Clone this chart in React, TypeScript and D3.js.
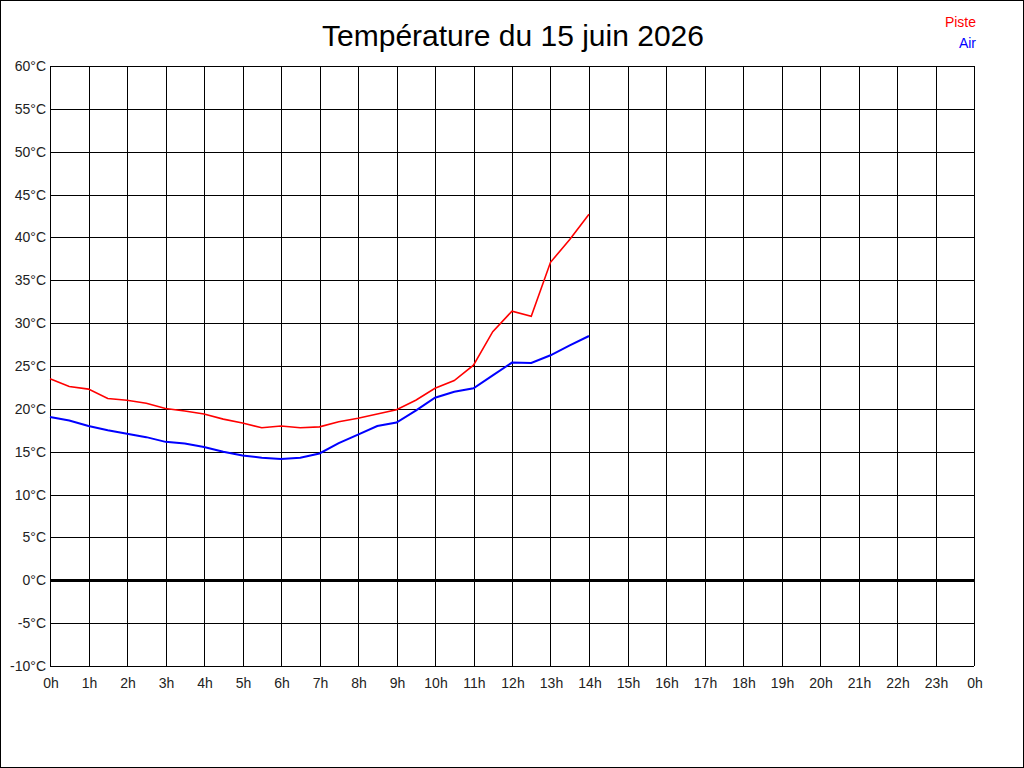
import { useCallback, useEffect, useRef } from 'react';

import { line, range, scaleLinear, select } from 'd3';

// half-hour steps from 0h to 14h
const hours: number[] = [
  0, 0.5, 1, 1.5, 2, 2.5, 3, 3.5, 4, 4.5, 5, 5.5, 6, 6.5, 7, 7.5, 8, 8.5, 9,
  9.5, 10, 10.5, 11, 11.5, 12, 12.5, 13, 13.5, 14,
];

const piste: number[] = [
  23.5, 22.6, 22.3, 21.2, 21.0, 20.65, 20.05, 19.75, 19.4, 18.8, 18.35, 17.8,
  18.0, 17.8, 17.9, 18.5, 18.9, 19.4, 19.9, 21.0, 22.4, 23.3, 25.1, 29.0, 31.4,
  30.8, 37.1, 39.75, 42.7,
];

const air: number[] = [
  19.05, 18.65, 18.0, 17.5, 17.1, 16.7, 16.15, 15.95, 15.55, 15.0, 14.55,
  14.3, 14.15, 14.3, 14.8, 16.0, 17.0, 18.0, 18.4, 19.8, 21.3, 22.0, 22.4,
  23.9, 25.4, 25.35, 26.25, 27.4, 28.5,
];

const hourTicks: number[] = range(0, 25);
const tempTicks: number[] = range(-10, 61, 5);

const series = [
  { name: 'Piste', color: '#ff0000', values: piste, width: 1.6 },
  { name: 'Air', color: '#0000ff', values: air, width: 2 },
];

export default function App() {
  const containerRef = useRef<HTMLDivElement>(null);

  const initChart = useCallback(() => {
    const container = containerRef.current;
    if (!container) return;

    const W = 1024,
      H = 768;
    const margin = { top: 66, right: 50, bottom: 102, left: 50 };
    const width = W - margin.left - margin.right,
      height = H - margin.top - margin.bottom;
    const font = '"Liberation Sans", Arial, sans-serif';

    const div = select(container);
    div.select('svg').remove();

    const root = div
      .append('svg')
      .attr('width', W)
      .attr('height', H)
      .style('display', 'block');

    root
      .append('rect')
      .attr('x', 0.5)
      .attr('y', 0.5)
      .attr('width', W - 1)
      .attr('height', H - 1)
      .attr('fill', '#fff')
      .attr('stroke', '#000');

    // title
    root
      .append('text')
      .attr('x', 513)
      .attr('y', 46)
      .attr('text-anchor', 'middle')
      .attr('font-family', font)
      .attr('font-size', 30)
      .text('Température du 15 juin 2026');

    // legend
    series.forEach((s, i) => {
      root
        .append('text')
        .attr('x', 976)
        .attr('y', 27 + i * 21)
        .attr('text-anchor', 'end')
        .attr('font-family', font)
        .attr('font-size', 14)
        .attr('fill', s.color)
        .text(s.name);
    });

    const svg = root
      .append('g')
      .attr('transform', `translate(${margin.left},${margin.top})`);

    const x = scaleLinear().domain([0, 24]).range([0, width]);
    const y = scaleLinear().domain([-10, 60]).range([height, 0]);

    // grid
    const grid = svg
      .append('g')
      .attr('stroke', '#000')
      .attr('shape-rendering', 'crispEdges');
    grid
      .selectAll('line.v')
      .data(hourTicks)
      .join('line')
      .attr('class', 'v')
      .attr('x1', (d) => Math.round(x(d)) + 0.5)
      .attr('x2', (d) => Math.round(x(d)) + 0.5)
      .attr('y1', 0)
      .attr('y2', height);
    grid
      .selectAll('line.h')
      .data(tempTicks)
      .join('line')
      .attr('class', 'h')
      .attr('x1', 0)
      .attr('x2', width)
      .attr('y1', (d) => Math.round(y(d)) + 0.5)
      .attr('y2', (d) => Math.round(y(d)) + 0.5)
      .attr('stroke-width', (d) => (d === 0 ? 3 : 1));

    // y labels
    svg
      .append('g')
      .selectAll('text')
      .data(tempTicks)
      .join('text')
      .attr('x', -4)
      .attr('y', (d) => y(d) + 5)
      .attr('text-anchor', 'end')
      .attr('font-family', font)
      .attr('font-size', 14)
      .attr('fill', '#222')
      .text((d) => `${d}°C`);

    // x labels
    svg
      .append('g')
      .selectAll('text')
      .data(hourTicks)
      .join('text')
      .attr('x', (d) => x(d) + 1)
      .attr('y', height + 22)
      .attr('text-anchor', 'middle')
      .attr('font-family', font)
      .attr('font-size', 14)
      .attr('fill', '#222')
      .text((d) => `${d % 24}h`);

    // lines
    series.forEach((s) => {
      const path = line<number>()
        .x((_, i) => x(hours[i]))
        .y((d) => y(d));
      svg
        .append('path')
        .datum(s.values)
        .attr('d', path)
        .attr('fill', 'none')
        .attr('stroke', s.color)
        .attr('stroke-width', s.width);
    });
  }, []);

  const destroyChart = useCallback(() => {
    const container = containerRef.current;
    if (!container) return;

    select(container).select('svg').remove();
  }, []);

  useEffect(() => {
    initChart();
    return destroyChart;
  }, [destroyChart, initChart]);

  return (
    <div
      ref={containerRef}
      style={{ position: 'absolute', left: 0, top: 0, background: '#fff' }}
    />
  );
}
